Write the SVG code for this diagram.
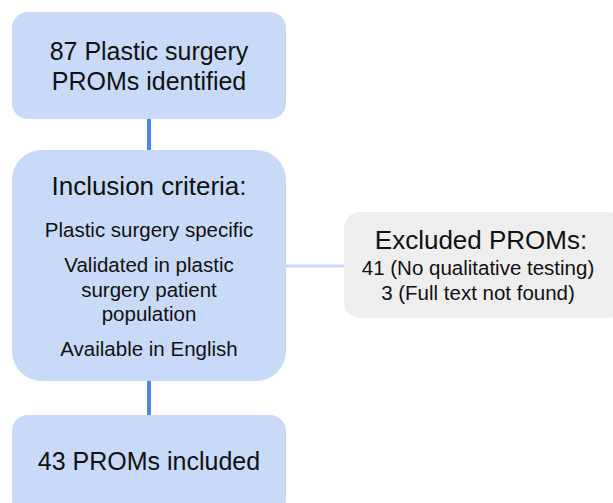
<svg xmlns="http://www.w3.org/2000/svg" width="613" height="503" viewBox="0 0 613 503">
<style>
.box{fill:#c9daf8;}
.gbox{fill:#eeeeee;}
text{font-family:"Liberation Sans",Arial,sans-serif;fill:#111;text-anchor:middle;}
.big{font-size:25px;}
.title{font-size:26px;}
.small{font-size:20.5px;}
.c1{stroke:#4a86e8;stroke-width:4;fill:none;}
.c2{stroke:#c9daf8;stroke-width:3;fill:none;}
</style>
<rect width="613" height="503" fill="#ffffff"/>
<g id="connectors">
<line class="c1" x1="149" y1="119" x2="149" y2="151"/>
<line class="c1" x1="149" y1="380" x2="149" y2="416"/>
<line class="c2" x1="285" y1="266" x2="345" y2="266"/>
</g>
<g id="identified">
<rect class="box" x="12" y="12" width="274" height="107" rx="16"/>
<text class="big" x="149" y="60">87 Plastic surgery</text>
<text class="big" x="149" y="90">PROMs identified</text>
</g>
<g id="inclusion">
<rect class="box" x="12" y="150" width="274" height="231" rx="30"/>
<text class="title" x="149" y="195">Inclusion criteria:</text>
<text class="small" x="149" y="237">Plastic surgery specific</text>
<text class="small" x="149" y="272">Validated in plastic</text>
<text class="small" x="149" y="297">surgery patient</text>
<text class="small" x="149" y="321">population</text>
<text class="small" x="149" y="356">Available in English</text>
</g>
<g id="excluded">
<rect class="gbox" x="344" y="212" width="280" height="106" rx="16"/>
<text class="title" x="481" y="249">Excluded PROMs:</text>
<text class="small" x="478" y="275">41 (No qualitative testing)</text>
<text class="small" x="478" y="300">3 (Full text not found)</text>
</g>
<g id="included">
<rect class="box" x="12" y="415" width="274" height="100" rx="16"/>
<text class="big" x="149" y="470">43 PROMs included</text>
</g>
</svg>
